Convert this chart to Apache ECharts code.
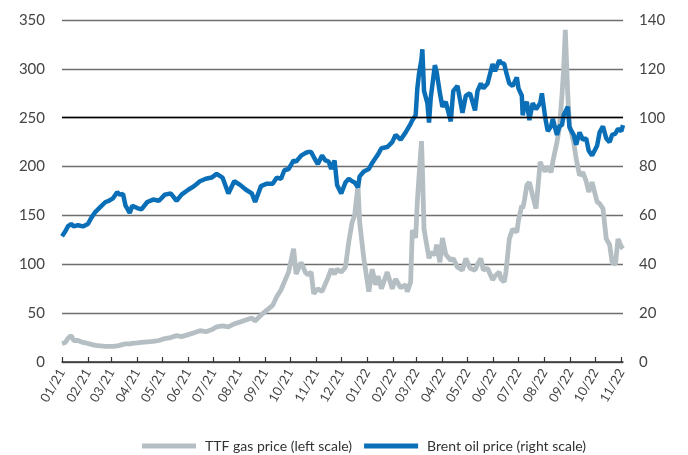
<!DOCTYPE html>
<html>
<head>
<meta charset="utf-8">
<script src="https://cdn.jsdelivr.net/npm/echarts@6/dist/echarts.min.js"></script>
<style>
html,body{margin:0;padding:0;background:#fff;}
#c1{width:688px;height:455px;}
</style>
</head>
<body>
<div id="c1"></div>
<script type="text/javascript">
var dates = [
  '2021-01-01','2021-01-05','2021-01-08','2021-01-12','2021-01-15','2021-01-20','2021-01-26',
  '2021-02-01','2021-02-05','2021-02-10','2021-02-16','2021-02-22','2021-02-26',
  '2021-03-03','2021-03-08','2021-03-11','2021-03-15','2021-03-18','2021-03-23','2021-03-26',
  '2021-04-01','2021-04-06','2021-04-13','2021-04-20','2021-04-27',
  '2021-05-04','2021-05-11','2021-05-18','2021-05-24',
  '2021-06-01','2021-06-08','2021-06-15','2021-06-22','2021-06-29',
  '2021-07-05','2021-07-12','2021-07-19','2021-07-26',
  '2021-08-02','2021-08-09','2021-08-16','2021-08-20','2021-08-27',
  '2021-09-03','2021-09-10','2021-09-15','2021-09-20','2021-09-24','2021-09-29',
  '2021-10-05','2021-10-08','2021-10-14','2021-10-19','2021-10-22','2021-10-26','2021-10-29',
  '2021-11-03','2021-11-08','2021-11-12','2021-11-16','2021-11-19','2021-11-23','2021-11-26',
  '2021-12-01','2021-12-06','2021-12-10','2021-12-14','2021-12-17','2021-12-21','2021-12-23','2021-12-28',
  '2022-01-03','2022-01-07','2022-01-11','2022-01-14','2022-01-18','2022-01-25','2022-01-31',
  '2022-02-04','2022-02-10','2022-02-16','2022-02-18','2022-02-22','2022-02-24','2022-02-28',
  '2022-03-02','2022-03-04','2022-03-07','2022-03-08','2022-03-10','2022-03-14','2022-03-16','2022-03-18','2022-03-23','2022-03-25','2022-03-29',
  '2022-04-01','2022-04-05','2022-04-11','2022-04-14','2022-04-19','2022-04-25','2022-04-29',
  '2022-05-04','2022-05-10','2022-05-13','2022-05-17','2022-05-20','2022-05-25','2022-05-31',
  '2022-06-03','2022-06-08','2022-06-10','2022-06-14','2022-06-16','2022-06-20','2022-06-24','2022-06-29',
  '2022-07-01','2022-07-05','2022-07-06','2022-07-08','2022-07-11','2022-07-14','2022-07-18','2022-07-22','2022-07-27','2022-07-29',
  '2022-08-02','2022-08-05','2022-08-09','2022-08-11','2022-08-16','2022-08-19','2022-08-22','2022-08-24','2022-08-26','2022-08-29','2022-08-31',
  '2022-09-05','2022-09-08','2022-09-12','2022-09-16','2022-09-20','2022-09-23','2022-09-27',
  '2022-10-03','2022-10-06','2022-10-10','2022-10-14','2022-10-18','2022-10-21','2022-10-25','2022-10-28',
  '2022-11-01','2022-11-03'
];
var ttf = [
  19,20,24,27,22,22,20,
  19,18,17,16.5,16,16,
  16,16.5,17,18,18.5,18.5,19,
  19.5,20,20.5,21,22,
  24,25,27,26,
  28,30,32,31,33,
  36,37,36,39,
  41,43,45,42,48,
  53,58,67,74,82,92,
  116,90,102,92,89,92,70,
  75,72,80,88,95,90,95,
  92,97,123,143,150,181,143,106,
  72,95,79,88,75,92,75,
  85,76,79,72,82,135,127,
  164,190,226,200,136,116,106,112,110,120,102,
  127,110,104,106,97,94,106,
  96,94,100,106,94,96,84,
  88,92,85,82,92,126,136,133,
  145,160,157,165,181,184,170,157,205,200,
  195,200,194,205,225,240,273,300,340,273,242,
  225,208,191,194,185,174,184,
  164,162,157,126,120,102,100,126,
  118,116
];
var brent = [
  51.5,53.5,55.5,56.5,55.5,56,55.5,
  56.5,59,61.5,63.5,65.5,66,
  67,69.5,68.5,68.8,64,61,64,
  63,62.5,65.5,66.5,66,
  68.5,69,66,68.5,
  70.5,72,74,75,75.5,
  77,75.5,69,74,
  72.5,70.5,69,65.5,72,
  73,73,75.5,75,78.5,79,
  82.5,82,84.5,85.5,86,86,84,
  81,84.5,82.5,82,79,82.5,72.5,
  69,73.5,75,74,73.5,71.5,76,78,
  79,81.5,83.5,85,87.5,88,90,
  93,91,94,93.5,97.5,99,101,
  112,118,124,128,111,106,98,108,121.5,119,110,
  104.5,106.5,98.5,111,113,102,109,
  110,103,111,114,112,114,122,
  119,123.5,122.5,122,119,114,113,116.5,
  112,109,101,104.5,106.5,99,106,103.5,106,110,
  100,94.5,96.5,99.5,93,96.5,97,101,101.5,104.5,96,
  93,89,94,91,91.5,86.5,84.5,
  88.5,94,96.5,91.5,90,93,93.5,95.5,
  94.5,97
];
var leftTicks = {min: 0, max: 350, interval: 50};
var rightTicks = {min: 0, max: 140, interval: 20};

// one category per calendar day so month ticks fall on the right spot
var days = [];
(function(){
  var d = new Date(Date.UTC(2021, 0, 1));
  var end = Date.UTC(2022, 10, 3);
  while (d.getTime() <= end) {
    days.push(d.toISOString().slice(0, 10));
    d.setUTCDate(d.getUTCDate() + 1);
  }
})();

function pairs(vals){
  return dates.map(function(d, i){ return [d, vals[i]]; });
}
function monthStart(idx, val){ return val.slice(8) === '01'; }

var font = 'Lato';
var chart = echarts.init(document.getElementById('c1'));
var option = {
  animation: false,
  textStyle: {fontFamily: font},
  grid: {left: 62, right: 65, top: 20, bottom: 93},
  legend: {
    left: 137,
    top: 434,
    itemGap: 12,
    itemWidth: 54,
    itemHeight: 5,
    icon: 'rect',
    textStyle: {color: '#333', fontSize: 14, fontFamily: font, padding: [0, 0, 0, 4]},
    data: ['TTF gas price (left scale)', 'Brent oil price (right scale)']
  },
  xAxis: {
    type: 'category',
    data: days,
    boundaryGap: false,
    axisLine: {lineStyle: {color: '#333', width: 1.5}},
    axisTick: {inside: true, length: 5, interval: monthStart, lineStyle: {color: '#333', width: 1.2}},
    axisLabel: {
      interval: monthStart,
      rotate: 60,
      margin: 8,
      color: '#444',
      fontSize: 13,
      fontFamily: font,
      formatter: function(v){ return v.slice(5, 7) + '/' + v.slice(2, 4); }
    },
    splitLine: {show: false}
  },
  yAxis: [
    {
      type: 'value',
      min: leftTicks.min, max: leftTicks.max, interval: leftTicks.interval,
      axisLine: {show: false},
      axisTick: {show: false},
      axisLabel: {color: '#444', fontSize: 15, margin: 17, fontFamily: font},
      splitLine: {lineStyle: {color: '#6e6e6e', width: 1.3}}
    },
    {
      type: 'value',
      min: rightTicks.min, max: rightTicks.max, interval: rightTicks.interval,
      axisLine: {show: false},
      axisTick: {show: false},
      axisLabel: {color: '#444', fontSize: 15, margin: 16, fontFamily: font},
      splitLine: {show: false}
    }
  ],
  series: [
    {
      name: 'TTF gas price (left scale)',
      type: 'line',
      yAxisIndex: 0,
      showSymbol: false,
      color: '#b5bfc3',
      lineStyle: {width: 4.8, color: '#b5bfc3'},
      data: pairs(ttf),
      markLine: {
        silent: true,
        symbol: 'none',
        label: {show: false},
        lineStyle: {color: '#000', width: 1.3, type: 'solid'},
        data: [{yAxis: 250}]
      },
      z: 2
    },
    {
      name: 'Brent oil price (right scale)',
      type: 'line',
      yAxisIndex: 1,
      showSymbol: false,
      color: '#0a6fb7',
      lineStyle: {width: 4.5, color: '#0a6fb7'},
      data: pairs(brent),
      z: 3
    }
  ]
};
chart.setOption(option);
</script>
</body>
</html>
